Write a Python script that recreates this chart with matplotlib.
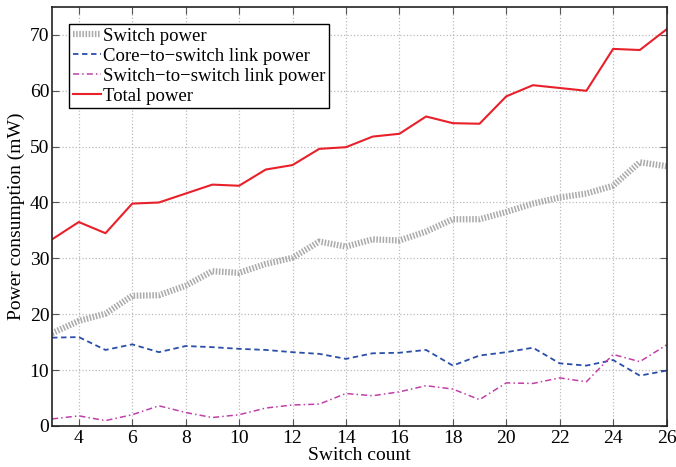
import matplotlib.pyplot as plt

# switch count on x, power in mW on y
switches = list(range(3, 27))
switch_power = [16.6, 18.8, 20.1, 23.3, 23.4, 25.1, 27.7, 27.4, 29.0, 30.1, 33.0, 32.1,
                33.4, 33.2, 34.8, 37.0, 37.0, 38.3, 39.8, 40.9, 41.6, 43.0, 47.2, 46.5]
core_link_power = [15.8, 15.9, 13.6, 14.6, 13.2, 14.3, 14.1, 13.8, 13.6, 13.2, 12.9, 12.0,
                   13.0, 13.1, 13.6, 10.8, 12.6, 13.2, 14.0, 11.2, 10.8, 11.8, 9.0, 9.9]
sw_link_power = [1.25, 1.8, 0.95, 2.0, 3.6, 2.4, 1.5, 2.0, 3.2, 3.75, 3.9, 5.8,
                 5.4, 6.1, 7.2, 6.6, 4.7, 7.7, 7.6, 8.6, 7.9, 12.8, 11.5, 14.5]
total_power = [33.4, 36.5, 34.5, 39.8, 40.0, 41.6, 43.2, 43.0, 45.9, 46.7, 49.6, 49.9,
               51.8, 52.3, 55.4, 54.2, 54.1, 59.0, 61.0, 60.5, 60.0, 67.5, 67.3, 71.0]

plt.rcParams['font.family'] = ['Liberation Serif', 'DejaVu Serif']

fig = plt.figure(figsize=(6.76, 4.67), dpi=100)
ax = fig.add_axes([0.077, 0.088, 0.909, 0.897])

ax.plot(switches, switch_power, color='#ababab', lw=4.5, ls=(0, (0.25, 0.25)),
        label='Switch power')
ax.plot(switches, core_link_power, color='#2a4fa8', lw=1.3, ls=(0, (3, 2)),
        label='Core\u2212to\u2212switch link power')
ax.plot(switches, sw_link_power, color='#c040a8', lw=1.1, ls=(0, (4, 2, 1, 2)),
        label='Switch\u2212to\u2212switch link power')
ax.plot(switches, total_power, color='#e8202a', lw=1.5, label='Total power')

ax.set_xlim(3, 26)
ax.set_ylim(0, 75)
ax.set_xticks(range(4, 27, 2))
ax.set_yticks(range(0, 71, 10))
ax.grid(True, color='#bbbbbb', ls=':', lw=0.9)
ax.tick_params(direction='in', top=True, right=True, labelsize=14, length=5,
               color='#555555')
ax.tick_params(axis='x', pad=3)
ax.tick_params(axis='y', pad=2)
for s in ax.spines.values():
    s.set_color('#222222')
    s.set_linewidth(1.2)

ax.set_xlabel('Switch count', fontsize=14, labelpad=0)
ax.set_ylabel('Power consumption (mW)', fontsize=14, labelpad=3)

leg = ax.legend(loc='upper left', fontsize=13.5, handlelength=1.5, handletextpad=0.1,
                borderaxespad=0.9, borderpad=0.2, labelspacing=0.15, fancybox=False,
                framealpha=1)
leg.get_frame().set_edgecolor('black')
leg.get_frame().set_linewidth(1.0)

fig.savefig('out.png', dpi=100)
